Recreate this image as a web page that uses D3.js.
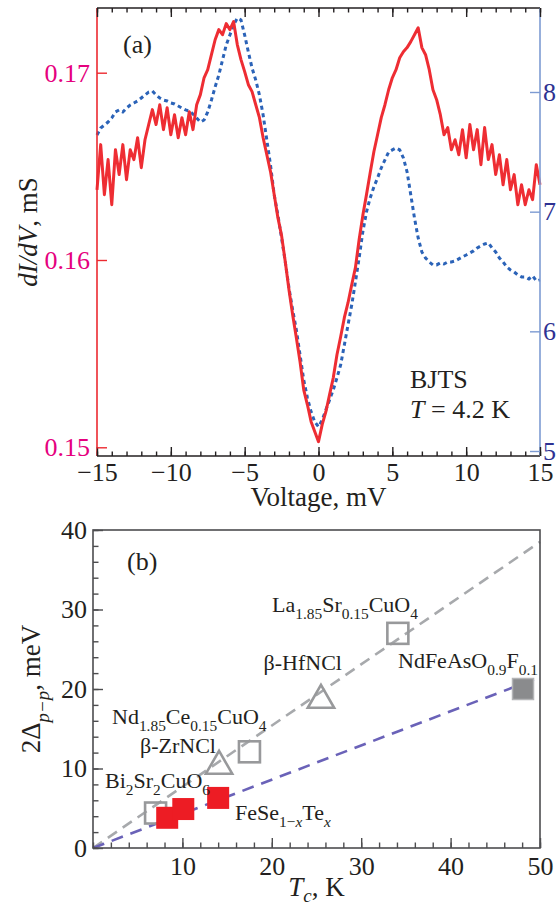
<!DOCTYPE html>
<html>
<head>
<meta charset="utf-8">
<script src="https://cdn.jsdelivr.net/npm/d3@7"></script>
<style>
    body { margin: 0; background: #fff; }
    svg { display: block; font-family: "Liberation Serif", "Times New Roman", serif; }
</style>
</head>
<body>
<div id="wrapper"></div>
<script>

/* 1. Data */

// panel (a): sampled every 0.25 mV from -15 to 15 mV
const voltageMin = -15
const voltageStep = 0.25

// red curve, left axis (mS)
const redDIdV = [
    0.16375, 0.16616, 0.16349, 0.16536, 0.16295, 0.16589, 0.16456, 0.16616, 0.16429, 0.16589,
    0.16536, 0.16653, 0.16493, 0.16642, 0.16723, 0.16803, 0.16723, 0.16829, 0.16696, 0.16813,
    0.16669, 0.16776, 0.16653, 0.16760, 0.16669, 0.16792, 0.16696, 0.16829, 0.16883, 0.16973,
    0.17016, 0.17096, 0.17176, 0.17230, 0.17203, 0.17262, 0.17230, 0.17273, 0.17150, 0.17070,
    0.17006, 0.16936, 0.16899, 0.16829, 0.16760, 0.16653, 0.16562, 0.16472, 0.16349, 0.16226,
    0.16130, 0.15991, 0.15841, 0.15708, 0.15585, 0.15457, 0.15307, 0.15227, 0.15137, 0.15083,
    0.15030, 0.15121, 0.15190, 0.15281, 0.15371, 0.15494, 0.15590, 0.15692, 0.15772, 0.15868,
    0.15959, 0.16108, 0.16237, 0.16349, 0.16466, 0.16578, 0.16669, 0.16760, 0.16829, 0.16909,
    0.16973, 0.17016, 0.17080, 0.17112, 0.17134, 0.17166, 0.17203, 0.17240, 0.17134, 0.17096,
    0.17016, 0.16909, 0.16856, 0.16776, 0.16669, 0.16707, 0.16589, 0.16642, 0.16562, 0.16696,
    0.16546, 0.16723, 0.16589, 0.16696, 0.16509, 0.16707, 0.16536, 0.16616, 0.16456, 0.16562,
    0.16402, 0.16536, 0.16375, 0.16456, 0.16295, 0.16402, 0.16295, 0.16375, 0.16322, 0.16509,
    0.16402
]

// blue dotted curve, right axis
const blueDIdV = [
    7.641, 7.699, 7.724, 7.749, 7.783, 7.833, 7.850, 7.833, 7.866, 7.891,
    7.908, 7.925, 7.950, 7.975, 8.000, 8.008, 7.975, 7.950, 7.933, 7.925,
    7.908, 7.900, 7.883, 7.866, 7.850, 7.841, 7.816, 7.783, 7.749, 7.766,
    7.833, 7.933, 8.042, 8.142, 8.267, 8.393, 8.476, 8.560, 8.618, 8.602,
    8.476, 8.334, 8.201, 8.100, 7.975, 7.808, 7.599, 7.390, 7.140, 6.972,
    6.780, 6.580, 6.363, 6.179, 6.012, 5.803, 5.594, 5.444, 5.327, 5.243,
    5.202, 5.260, 5.344, 5.427, 5.511, 5.611, 5.719, 5.886, 6.054, 6.221,
    6.413, 6.613, 6.830, 6.998, 7.115, 7.206, 7.282, 7.365, 7.432, 7.499,
    7.516, 7.532, 7.516, 7.449, 7.332, 7.140, 6.947, 6.780, 6.663, 6.613,
    6.580, 6.555, 6.555, 6.572, 6.563, 6.580, 6.580, 6.588, 6.605, 6.622,
    6.638, 6.655, 6.672, 6.697, 6.714, 6.730, 6.739, 6.697, 6.663, 6.613,
    6.580, 6.538, 6.513, 6.496, 6.471, 6.455, 6.455, 6.438, 6.463, 6.421,
    6.430
]

const voltageTicks = [-15, -10, -5, 0, 5, 10, 15]
const leftTicks = [0.15, 0.16, 0.17]
const rightTicks = [5, 6, 7, 8]

// panel (b)
const tcTicks = [10, 20, 30, 40, 50]
const gapTicks = [0, 10, 20, 30, 40]

const openSquares = [
    { tc: 7.0, gap: 4.4 },     // Bi2Sr2CuO6
    { tc: 17.5, gap: 12.1 },   // Nd1.85Ce0.15CuO4
    { tc: 34.1, gap: 27.0 },   // La1.85Sr0.15CuO4
]
const openTriangles = [
    { tc: 14.1, gap: 10.3 },   // beta-ZrNCl
    { tc: 25.5, gap: 18.6 },   // beta-HfNCl
]
const feSeTe = [
    { tc: 8.3, gap: 3.8 },
    { tc: 10.1, gap: 4.9 },
    { tc: 14.0, gap: 6.3 },
]
const ndFeAsO = [{ tc: 48.1, gap: 20.0 }]

const grayFit = [{ tc: 0, gap: 0 }, { tc: 50, gap: 38.5 }]
const blueFit = [{ tc: 0, gap: 0 }, { tc: 50, gap: 21.5 }]

/* 2. Dimensions */
const dimensions = { width: 560, height: 910 }
const panelA = { left: 97, right: 540, top: 8, bottom: 456 }
const panelB = { left: 93, right: 540, top: 530, bottom: 848 }

const wrapper = d3.select("#wrapper")
    .append("svg")
    .attr("width", dimensions.width)
    .attr("height", dimensions.height)

// small helper for text with italic parts and subscripts
function richText(g, x, y, segs, size, anchor, subShift) {
    const shift = subShift === undefined ? 0.32 : subShift
    const t = g.append("text")
        .attr("x", x)
        .attr("y", y)
        .attr("font-size", size)
        .attr("fill", "#231f20")
        .attr("text-anchor", anchor || "start")
    let cur = 0
    segs.forEach(s => {
        const target = s.sub ? size * shift : 0
        t.append("tspan")
            .attr("dy", target - cur)
            .attr("font-size", s.sub ? size * 0.7 : size)
            .attr("font-style", s.it ? "italic" : null)
            .text(s.t)
        cur = target
    })
    return t
}

/* 3. Panel (a) */
const xScale = d3.scaleLinear()
    .domain([-15, 15])
    .range([panelA.left, panelA.right])
const yLeft = d3.scaleLinear()
    .domain([0.15, 0.17])
    .range([447.3, 72.7])
const yRight = d3.scaleLinear()
    .domain([5, 8])
    .range([451, 92])

const voltage = redDIdV.map((d, i) => voltageMin + i * voltageStep)

const a = wrapper.append("g")

const blueLine = d3.line()
    .x((d, i) => xScale(voltage[i]))
    .y(d => yRight(d))
a.append("path")
    .datum(blueDIdV)
    .attr("d", blueLine)
    .attr("fill", "none")
    .attr("stroke", "#2b63b8")
    .attr("stroke-width", 3)
    .attr("stroke-dasharray", "4,3.5")

const redLine = d3.line()
    .x((d, i) => xScale(voltage[i]))
    .y(d => yLeft(d))
a.append("path")
    .datum(redDIdV)
    .attr("d", redLine)
    .attr("fill", "none")
    .attr("stroke", "#ee2d33")
    .attr("stroke-width", 3)
    .attr("stroke-linejoin", "round")

// frame lines
a.append("line")
    .attr("x1", panelA.left).attr("x2", panelA.right)
    .attr("y1", panelA.bottom).attr("y2", panelA.bottom)
    .attr("stroke", "#231f20").attr("stroke-width", 1.6)
a.append("line")
    .attr("x1", panelA.left).attr("x2", panelA.right)
    .attr("y1", panelA.top).attr("y2", panelA.top)
    .attr("stroke", "#231f20").attr("stroke-width", 1.6)
a.append("line")
    .attr("x1", panelA.left).attr("x2", panelA.left)
    .attr("y1", panelA.top).attr("y2", panelA.bottom)
    .attr("stroke", "#ec2a30").attr("stroke-width", 1.6)
a.append("line")
    .attr("x1", panelA.right).attr("x2", panelA.right)
    .attr("y1", panelA.top).attr("y2", panelA.bottom)
    .attr("stroke", "#7d9bd2").attr("stroke-width", 1.6)

// bottom axis
const minorVolt = d3.range(-15, 16, 1)
const xAxisA = a.append("g")
    .attr("transform", `translate(0, ${panelA.bottom})`)
    .call(d3.axisBottom(xScale).tickValues(voltageTicks).tickSize(-9).tickPadding(7))
const xMinorA = a.append("g")
    .attr("transform", `translate(0, ${panelA.bottom})`)
    .call(d3.axisBottom(xScale).tickValues(minorVolt).tickSize(-4.5).tickFormat(""))
// top axis
const topA = a.append("g")
    .attr("transform", `translate(0, ${panelA.top})`)
    .call(d3.axisTop(xScale).tickValues(voltageTicks).tickSize(-9).tickFormat(""))
const topMinorA = a.append("g")
    .attr("transform", `translate(0, ${panelA.top})`)
    .call(d3.axisTop(xScale).tickValues(minorVolt).tickSize(-4.5).tickFormat(""))

// left axis
const yAxisLeft = a.append("g")
    .attr("transform", `translate(${panelA.left}, 0)`)
    .call(d3.axisLeft(yLeft).tickValues(leftTicks).tickSize(-10).tickPadding(7).tickFormat(d3.format(".2f")))

// right axis
const yAxisRight = a.append("g")
    .attr("transform", `translate(${panelA.right}, 0)`)
    .call(d3.axisRight(yRight).tickValues(rightTicks).tickSize(-10).tickPadding(3).tickFormat(d3.format("d")))

a.selectAll(".domain").remove()
a.selectAll(".tick line").attr("stroke-width", 1.4)
a.selectAll(".tick text")
    .attr("font-family", "Liberation Serif, serif")
    .attr("font-size", 26)
;[xAxisA, xMinorA, topA, topMinorA].forEach(g => {
    g.selectAll("line").attr("stroke", "#231f20")
    g.selectAll("text").attr("fill", "#231f20")
})
yAxisLeft.selectAll("line").attr("stroke", "#ec2a30")
yAxisLeft.selectAll("text").attr("fill", "#e5007e")
yAxisRight.selectAll("line").attr("stroke", "#7d9bd2")
yAxisRight.selectAll("text").attr("fill", "#2e3192")

// titles
richText(a, 0, 0, [{ t: "dI/dV", it: true }, { t: ", mS" }], 27, "middle")
    .attr("transform", `translate(37, ${(panelA.top + panelA.bottom) / 2}) rotate(-90)`)
    .attr("x", null).attr("y", null)
richText(a, (panelA.left + panelA.right) / 2, 506, [{ t: "Voltage, mV" }], 27, "middle")
richText(a, 123, 53, [{ t: "(a)" }], 26)
richText(a, 410, 388, [{ t: "BJTS" }], 26)
richText(a, 410, 418, [{ t: "T", it: true }, { t: " = 4.2 K" }], 26)

/* 4. Panel (b) */
const tcScale = d3.scaleLinear()
    .domain([0, 50])
    .range([panelB.left, panelB.right])
const gapScale = d3.scaleLinear()
    .domain([0, 40])
    .range([panelB.bottom, panelB.top])

const b = wrapper.append("g")

const fitLine = d3.line()
    .x(d => tcScale(d.tc))
    .y(d => gapScale(d.gap))

b.append("path")
    .datum(grayFit)
    .attr("d", fitLine)
    .attr("stroke", "#a7a9ac")
    .attr("stroke-width", 2.6)
    .attr("stroke-dasharray", "11,7")
b.append("path")
    .datum(blueFit)
    .attr("d", fitLine)
    .attr("stroke", "#6a62b8")
    .attr("stroke-width", 2.6)
    .attr("stroke-dasharray", "12,8")

const sq = 21
b.selectAll(".open-square")
    .data(openSquares)
    .enter().append("rect")
    .attr("x", d => tcScale(d.tc) - sq / 2)
    .attr("y", d => gapScale(d.gap) - sq / 2)
    .attr("width", sq).attr("height", sq)
    .attr("fill", "none")
    .attr("stroke", "#98999b")
    .attr("stroke-width", 2.6)

const triangle = d3.symbol().type(d3.symbolTriangle).size(300)
b.selectAll(".open-triangle")
    .data(openTriangles)
    .enter().append("path")
    .attr("d", triangle)
    .attr("transform", d => `translate(${tcScale(d.tc)}, ${gapScale(d.gap)})`)
    .attr("fill", "none")
    .attr("stroke", "#98999b")
    .attr("stroke-width", 2.6)

b.selectAll(".fese")
    .data(feSeTe)
    .enter().append("rect")
    .attr("x", d => tcScale(d.tc) - 11)
    .attr("y", d => gapScale(d.gap) - 11)
    .attr("width", 22).attr("height", 22)
    .attr("fill", "#ed1c24")

b.selectAll(".ndfeaso")
    .data(ndFeAsO)
    .enter().append("rect")
    .attr("x", d => tcScale(d.tc) - 10.5)
    .attr("y", d => gapScale(d.gap) - 10.5)
    .attr("width", 21).attr("height", 21)
    .attr("fill", "#8a8b8d")
    .attr("stroke", "#b3b4b6")
    .attr("stroke-width", 1.5)

// frame
b.append("rect")
    .attr("x", panelB.left).attr("y", panelB.top)
    .attr("width", panelB.right - panelB.left)
    .attr("height", panelB.bottom - panelB.top)
    .attr("fill", "none")
    .attr("stroke", "#4d4d4f")
    .attr("stroke-width", 1.6)

const xAxisB = b.append("g")
    .attr("transform", `translate(0, ${panelB.bottom})`)
    .call(d3.axisBottom(tcScale).tickValues(tcTicks).tickSize(-10).tickPadding(9))
b.append("g")
    .attr("transform", `translate(0, ${panelB.bottom})`)
    .call(d3.axisBottom(tcScale).tickValues(d3.range(0, 51, 2)).tickSize(-5.5).tickFormat(""))
const yAxisB = b.append("g")
    .attr("transform", `translate(${panelB.left}, 0)`)
    .call(d3.axisLeft(gapScale).tickValues(gapTicks).tickSize(-10).tickPadding(6))
b.append("g")
    .attr("transform", `translate(${panelB.left}, 0)`)
    .call(d3.axisLeft(gapScale).tickValues(d3.range(0, 41, 2)).tickSize(-5.5).tickFormat(""))

b.selectAll(".domain").remove()
b.selectAll(".tick line").attr("stroke", "#4d4d4f").attr("stroke-width", 1.4)
b.selectAll(".tick text")
    .attr("font-family", "Liberation Serif, serif")
    .attr("font-size", 26)
    .attr("fill", "#231f20")

// titles
richText(b, 0, 0, [{ t: "2Δ" }, { t: "p−p", it: true, sub: true }, { t: ", meV" }], 27, "middle")
    .attr("transform", `translate(40, ${(panelB.top + panelB.bottom) / 2}) rotate(-90)`)
    .attr("x", null).attr("y", null)
richText(b, (panelB.left + panelB.right) / 2, 896, [{ t: "T", it: true }, { t: "c", it: true, sub: true }, { t: ", K" }], 27, "middle", 0.22)
richText(b, 127, 570, [{ t: "(b)" }], 26)

// material labels
richText(b, 272, 612, [{ t: "La" }, { t: "1.85", sub: true }, { t: "Sr" }, { t: "0.15", sub: true }, { t: "CuO" }, { t: "4", sub: true }], 22)
richText(b, 342, 670, [{ t: "β-HfNCl" }], 22, "end")
richText(b, 398, 668, [{ t: "NdFeAsO" }, { t: "0.9", sub: true }, { t: "F" }, { t: "0.1", sub: true }], 22)
richText(b, 112, 724, [{ t: "Nd" }, { t: "1.85", sub: true }, { t: "Ce" }, { t: "0.15", sub: true }, { t: "CuO" }, { t: "4", sub: true }], 22)
richText(b, 140, 753, [{ t: "β-ZrNCl" }], 22)
richText(b, 105, 788, [{ t: "Bi" }, { t: "2", sub: true }, { t: "Sr" }, { t: "2", sub: true }, { t: "CuO" }, { t: "6", sub: true }], 22)
richText(b, 235, 820, [{ t: "FeSe" }, { t: "1−", sub: true }, { t: "x", sub: true, it: true }, { t: "Te" }, { t: "x", sub: true, it: true }], 22)

</script>
</body>
</html>
